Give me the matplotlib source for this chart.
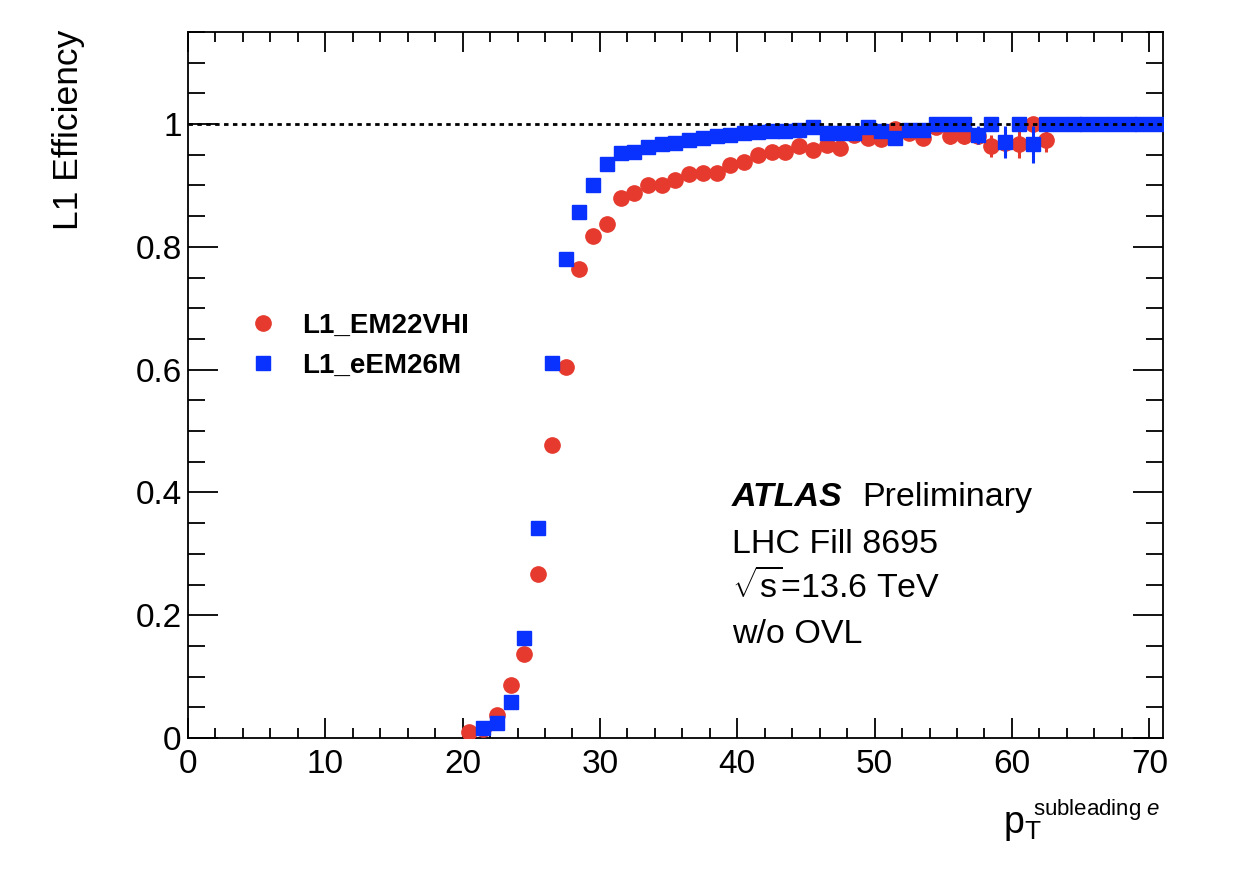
import numpy as np
import matplotlib
matplotlib.use('Agg')
import matplotlib.pyplot as plt
from matplotlib.ticker import MultipleLocator

plt.rcParams['font.family'] = ['Liberation Sans', 'DejaVu Sans']
plt.rcParams['mathtext.fontset'] = 'custom'
plt.rcParams['mathtext.rm'] = 'Liberation Sans'
plt.rcParams['mathtext.it'] = 'Liberation Sans:italic'
plt.rcParams['mathtext.bf'] = 'Liberation Sans:bold'

# L1_EM22VHI (legacy)
x_em = [20.5, 21.5, 22.5, 23.5, 24.5, 25.5, 26.5, 27.5, 28.5, 29.5,
        30.5, 31.5, 32.5, 33.5, 34.5, 35.5, 36.5, 37.5, 38.5, 39.5,
        40.5, 41.5, 42.5, 43.5, 44.5, 45.5, 46.5, 47.5, 48.5, 49.5,
        50.5, 51.5, 52.5, 53.5, 54.5, 55.5, 56.5, 57.5, 58.5, 59.5,
        60.5, 61.5, 62.5]
eff_em = [0.010, 0.015, 0.037, 0.086, 0.137, 0.267, 0.477, 0.604, 0.764, 0.818,
          0.838, 0.880, 0.888, 0.900, 0.900, 0.909, 0.918, 0.921, 0.921, 0.933,
          0.939, 0.950, 0.955, 0.954, 0.964, 0.958, 0.966, 0.961, 0.983, 0.977,
          0.975, 0.992, 0.985, 0.977, 0.995, 0.980, 0.980, 0.980, 0.964, 0.970,
          0.968, 1.000, 0.974]
err_em = [0.002, 0.002, 0.003, 0.004, 0.005, 0.006, 0.007, 0.007, 0.006, 0.006,
          0.005, 0.005, 0.005, 0.005, 0.005, 0.005, 0.005, 0.005, 0.005, 0.005,
          0.005, 0.005, 0.005, 0.005, 0.005, 0.006, 0.006, 0.006, 0.006, 0.007,
          0.008, 0.008, 0.008, 0.009, 0.008, 0.012, 0.012, 0.012, 0.018, 0.020,
          0.024, 0.000, 0.020]

# L1_eEM26M (phase-1)
x_eem = [21.5, 22.5, 23.5, 24.5, 25.5, 26.5, 27.5, 28.5, 29.5, 30.5,
         31.5, 32.5, 33.5, 34.5, 35.5, 36.5, 37.5, 38.5, 39.5, 40.5,
         41.5, 42.5, 43.5, 44.5, 45.5, 46.5, 47.5, 48.5, 49.5, 50.5,
         51.5, 52.5, 53.5, 54.5, 55.5, 56.5, 57.5, 58.5, 59.5, 60.5,
         61.5, 62.5, 63.5, 64.5, 65.5, 66.5, 67.5, 68.5, 69.5, 70.5]
eff_eem = [0.016, 0.024, 0.059, 0.163, 0.342, 0.611, 0.780, 0.857, 0.900, 0.935,
           0.953, 0.955, 0.963, 0.967, 0.970, 0.974, 0.977, 0.980, 0.983, 0.986,
           0.987, 0.988, 0.989, 0.990, 0.995, 0.986, 0.985, 0.986, 0.996, 0.988,
           0.977, 0.990, 0.990, 1.000, 1.000, 1.000, 0.982, 1.000, 0.971, 1.000,
           0.967, 1.000, 1.000, 1.000, 1.000, 1.000, 1.000, 1.000, 1.000, 1.000]
err_eem = [0.002, 0.003, 0.004, 0.006, 0.007, 0.007, 0.006, 0.005, 0.004, 0.004,
           0.003, 0.003, 0.003, 0.003, 0.003, 0.003, 0.003, 0.003, 0.003, 0.003,
           0.003, 0.003, 0.003, 0.003, 0.003, 0.004, 0.004, 0.004, 0.004, 0.006,
           0.008, 0.006, 0.006, 0.000, 0.000, 0.000, 0.015, 0.000, 0.026, 0.000,
           0.030, 0.000, 0.000, 0.000, 0.000, 0.000, 0.000, 0.000, 0.000, 0.000]

red = '#e63a2e'
blue = '#0a32ff'

fig = plt.figure(figsize=(12.48, 8.82), dpi=100)
ax = fig.add_axes([0.1506, 0.1633, 0.7813, 0.8004])

ax.errorbar(x_em, eff_em, yerr=err_em, fmt='none', ecolor=red, elinewidth=2.2, zorder=2)
ax.plot(x_em, eff_em, 'o', color=red, ms=11, mec=red, label='L1_EM22VHI', zorder=3)
ax.errorbar(x_eem, eff_eem, yerr=err_eem, fmt='none', ecolor=blue, elinewidth=2.2, zorder=4)
ax.plot(x_eem, eff_eem, 's', color=blue, ms=10.3, mec=blue, label='L1_eEM26M', zorder=5)

ax.axhline(1.0, color='black', lw=2.0, ls=(0, (1.6, 1.6)), zorder=6)

ax.set_xlim(0, 71)
ax.set_ylim(0, 1.15)

ax.xaxis.set_major_locator(MultipleLocator(10))
ax.xaxis.set_minor_locator(MultipleLocator(2))
ax.yaxis.set_major_locator(MultipleLocator(0.2))
ax.yaxis.set_minor_locator(MultipleLocator(0.05))
ax.set_yticks([0, 0.2, 0.4, 0.6, 0.8, 1.0])
ax.set_yticklabels(['0', '0.2', '0.4', '0.6', '0.8', '1'])

ax.tick_params(axis='both', which='both', direction='in', top=True, right=True,
               width=1.3, labelsize=24, colors='black')
ax.tick_params(axis='x', which='major', length=14.4, pad=8)
ax.tick_params(axis='x', which='minor', length=7.2)
ax.tick_params(axis='y', which='major', length=21.6, pad=4.5)
ax.tick_params(axis='y', which='minor', length=12)
for s in ax.spines.values():
    s.set_linewidth(1.3)

ax.text(-0.123, 1.003, 'L1 Efficiency', transform=ax.transAxes, rotation=90,
        ha='center', va='top', fontsize=25.5)
# x title: p_T with a smaller superscript, as in ROOT
ax.text(0.836, -0.1346, r'$\mathrm{p}_{\mathrm{T}}$', transform=ax.transAxes,
        ha='left', va='baseline', fontsize=27)
ax.text(0.997, -0.109, r'subleading $e$', transform=ax.transAxes,
        ha='right', va='baseline', fontsize=16)

ax.legend(loc='center left', bbox_to_anchor=(0.0634, 0.556), frameon=False,
          prop={'weight': 'bold', 'size': 20}, handlelength=0.95,
          handletextpad=0.95, labelspacing=0.5, borderpad=0, borderaxespad=0,
          numpoints=1)

fs_lab = 24.5
ax.text(0.5577, 0.3286, 'ATLAS', transform=ax.transAxes, fontsize=fs_lab,
        fontweight='bold', fontstyle='italic', va='baseline')
ax.text(0.692, 0.3286, 'Preliminary', transform=ax.transAxes, fontsize=fs_lab,
        va='baseline')
ax.text(0.5577, 0.262, 'LHC Fill 8695', transform=ax.transAxes, fontsize=fs_lab,
        va='baseline')
ax.text(0.5577, 0.198, r'$\sqrt{\mathrm{s}}$=13.6 TeV', transform=ax.transAxes,
        fontsize=fs_lab, va='baseline')
ax.text(0.5577, 0.1346, 'w/o OVL', transform=ax.transAxes, fontsize=fs_lab,
        va='baseline')

fig.savefig('out.png', dpi=100, facecolor='white')
